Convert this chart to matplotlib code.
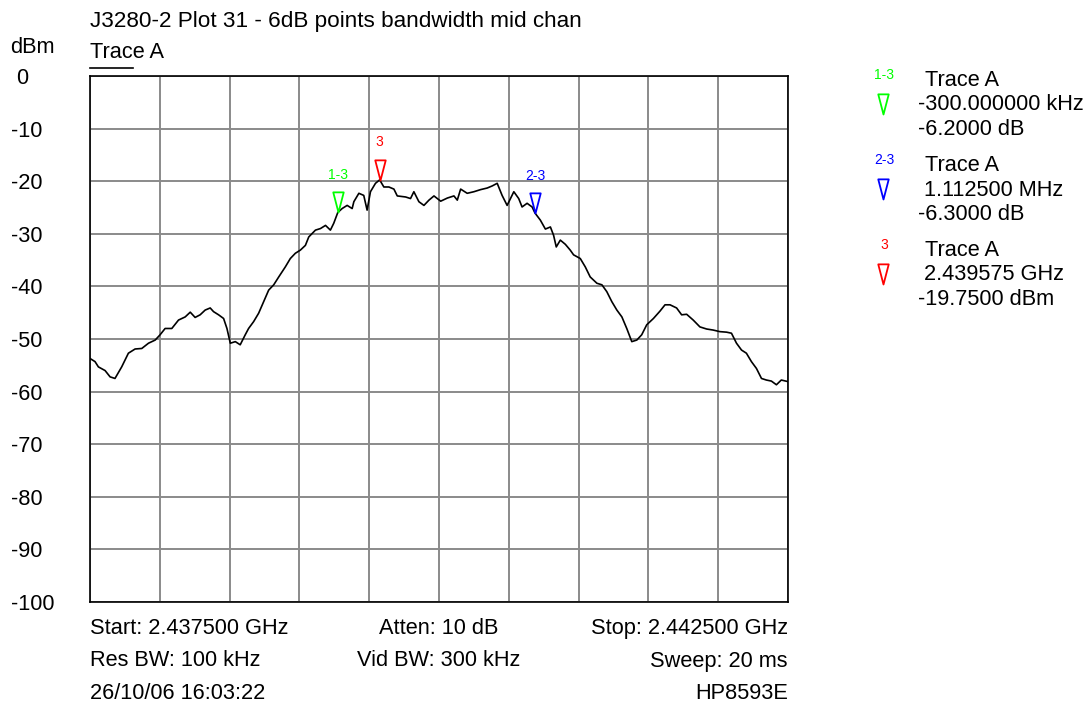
import matplotlib.pyplot as plt
from matplotlib.path import Path

plt.rcParams['font.family'] = ['Liberation Sans', 'DejaVu Sans']

W, H = 1091, 702
FS = 15.7

# trace A, frequency in MHz and level in dBm
freq = [2437.500, 2437.536, 2437.560, 2437.608, 2437.644, 2437.679, 2437.727, 2437.775,
        2437.823, 2437.871, 2437.919, 2437.967, 2438.002, 2438.038, 2438.086, 2438.134,
        2438.182, 2438.218, 2438.253, 2438.289, 2438.325, 2438.361, 2438.385, 2438.421,
        2438.457, 2438.481, 2438.505, 2438.541, 2438.576, 2438.612, 2438.636, 2438.672,
        2438.708, 2438.744, 2438.780, 2438.816, 2438.852, 2438.899, 2438.935, 2438.971,
        2439.007, 2439.043, 2439.067, 2439.115, 2439.151, 2439.187, 2439.222, 2439.246,
        2439.275, 2439.306, 2439.342, 2439.378, 2439.390, 2439.426, 2439.461, 2439.485,
        2439.509, 2439.545, 2439.575, 2439.605, 2439.641, 2439.677, 2439.701, 2439.761,
        2439.796, 2439.820, 2439.856, 2439.892, 2439.928, 2439.964, 2440.012, 2440.060,
        2440.107, 2440.131, 2440.155, 2440.202, 2440.250, 2440.298, 2440.345, 2440.381,
        2440.417, 2440.452, 2440.488, 2440.536, 2440.571, 2440.595, 2440.631, 2440.667,
        2440.6875, 2440.726, 2440.762, 2440.798, 2440.821, 2440.840, 2440.869, 2440.905,
        2440.940, 2440.964, 2441.012, 2441.048, 2441.083, 2441.131, 2441.167, 2441.202,
        2441.238, 2441.274, 2441.310, 2441.345, 2441.381, 2441.417, 2441.452, 2441.488,
        2441.536, 2441.583, 2441.619, 2441.655, 2441.702, 2441.738, 2441.774, 2441.821,
        2441.869, 2441.917, 2441.964, 2442.012, 2442.060, 2442.095, 2442.131, 2442.167,
        2442.202, 2442.238, 2442.274, 2442.310, 2442.345, 2442.381, 2442.417, 2442.452,
        2442.500]
level = [-53.7, -54.3, -55.3, -56.0, -57.2, -57.5, -55.3, -52.7,
         -51.9, -51.8, -50.8, -50.2, -49.2, -48.0, -48.0, -46.4,
         -45.8, -44.9, -45.9, -45.4, -44.5, -44.1, -44.8, -45.4,
         -46.1, -48.0, -50.8, -50.5, -51.1, -49.2, -48.0, -46.7,
         -45.1, -42.9, -40.7, -39.7, -38.2, -36.3, -34.7, -33.7,
         -33.1, -32.2, -30.6, -29.3, -29.0, -28.4, -29.3, -28.0,
         -25.95, -25.2, -24.6, -25.2, -23.9, -22.3, -22.7, -25.5,
         -22.0, -20.4, -19.75, -21.1, -21.1, -21.5, -22.8, -23.0,
         -23.3, -22.0, -23.9, -24.6, -23.6, -22.8, -23.8, -23.2,
         -22.8, -23.6, -21.5, -22.3, -22.0, -21.6, -21.3, -20.9,
         -20.4, -22.7, -24.6, -22.0, -23.3, -24.9, -24.2, -24.9,
         -26.05, -27.4, -29.1, -28.7, -30.3, -32.5, -31.2, -32.0,
         -33.1, -34.0, -34.7, -36.3, -38.2, -39.4, -39.7, -41.0,
         -42.9, -44.5, -45.8, -48.0, -50.5, -50.2, -49.2, -47.3,
         -46.1, -44.7, -43.5, -43.5, -44.1, -45.4, -45.3, -46.4,
         -47.7, -48.1, -48.3, -48.6, -48.7, -48.9, -50.8, -52.1,
         -52.7, -54.3, -55.6, -57.5, -57.8, -58.0, -58.7, -57.8,
         -58.1]

# markers: label, freq, level, colour
mk_labels = ['1-3', '2-3', '3']
mk_freq = [2439.275, 2440.6875, 2439.575]
mk_level = [-25.95, -26.05, -19.75]
mk_colors = ['#00ff00', '#0000ff', '#ff0000']
mk_readout = [['Trace A', '-300.000000 kHz', '-6.2000 dB'],
              ['Trace A', ' 1.112500 MHz', '-6.3000 dB'],
              ['Trace A', ' 2.439575 GHz', '-19.7500 dBm']]

yticks = list(range(0, -101, -10))
ytick_labels = [' 0'] + [str(t) for t in yticks[1:]]
footer = [['Start: 2.437500 GHz', 'Atten: 10 dB', 'Stop: 2.442500 GHz'],
          ['Res BW: 100 kHz', 'Vid BW: 300 kHz', 'Sweep: 20 ms'],
          ['26/10/06 16:03:22', '', 'HP8593E']]

def fx(x):
    return x / W

def fy(y):
    return 1 - y / H

tri = Path([(-0.26, 1.0), (0.26, 1.0), (0.0, 0.0), (-0.26, 1.0)],
           [Path.MOVETO, Path.LINETO, Path.LINETO, Path.CLOSEPOLY])
small = dict(family=['Liberation Sans Narrow', 'Liberation Sans'], fontsize=10)

fig = plt.figure(figsize=(W / 100, H / 100), dpi=100)
ax = fig.add_axes([fx(90), fy(602), (788 - 90) / W, (602 - 76) / H])
ax.set_xlim(2437.5, 2442.5)
ax.set_ylim(-100, 0)
ax.set_xticks([2437.5 + 0.5 * i for i in range(11)])
ax.set_xticklabels([])
ax.set_yticks(yticks)
ax.set_yticklabels(ytick_labels, fontsize=FS)
for lab in ax.get_yticklabels():
    lab.set_horizontalalignment('left')
ax.tick_params(length=0)
ax.tick_params(axis='y', pad=57)
ax.grid(True, color='#8a8a8a', lw=1.4)
for s in ax.spines.values():
    s.set_linewidth(1.2)

ax.plot(freq, level, color='black', lw=1.2, zorder=3)

for lab, f, l, c in zip(mk_labels, mk_freq, mk_level, mk_colors):
    ax.plot([f], [l], marker=tri, ms=29, mfc='none', mec=c, mew=1.3, zorder=4)
    ax.annotate(lab, (f, l), xytext=(0, 27), textcoords='offset points',
                ha='center', va='center', color=c, **small)

# header
fig.text(fx(90), fy(27), 'J3280-2 Plot 31 - 6dB points bandwidth mid chan', fontsize=16.2)
fig.text(fx(10), fy(53), 'dBm', fontsize=FS)
fig.text(fx(90), fy(58), 'Trace A', fontsize=FS)
fig.add_artist(plt.Line2D([fx(90), fx(133)], [fy(68), fy(68)], color='black', lw=1.2))

# marker readouts on the right
for i, (lab, c, lines) in enumerate(zip(mk_labels, mk_colors, mk_readout)):
    y0 = 86 + 85 * i
    fig.text(fx(884), fy(y0 - 11), lab, color=c, ha='center', va='center', **small)
    fig.add_artist(plt.Line2D([fx(883)], [fy(y0 + 28)], marker=tri, ms=29,
                              mfc='none', mec=c, mew=1.3))
    for j, t in enumerate(lines):
        x0 = 925 if j == 0 else 918
        fig.text(fx(x0), fy(y0 + 24.5 * j), t, fontsize=FS)

# footer
for r, row in enumerate(footer):
    y0 = 634 + 32.5 * r
    fig.text(fx(90), fy(y0), row[0], fontsize=FS)
    fig.text(fx(439), fy(y0), row[1], fontsize=FS, ha='center')
    fig.text(fx(788), fy(y0), row[2], fontsize=FS, ha='right')

fig.savefig('out.png', dpi=100)
